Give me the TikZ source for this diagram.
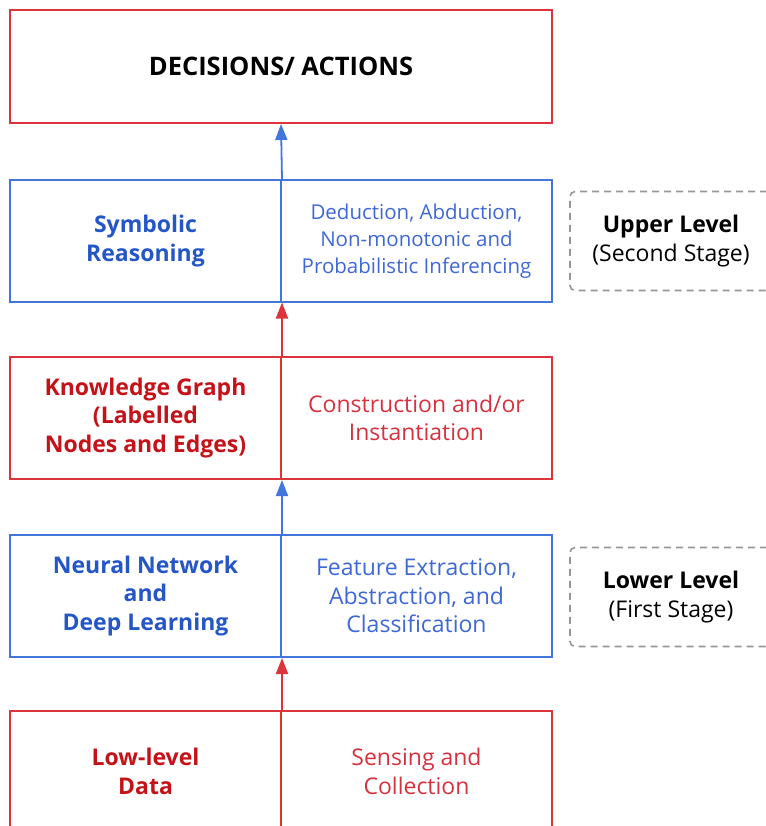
\documentclass[tikz,border=0pt]{standalone}
\usepackage{fontspec}
\setmainfont{Open Sans}
\usepackage{tikz}
\usetikzlibrary{arrows.meta}
\definecolor{boxred}{RGB}{220,52,58}
\definecolor{txtred}{RGB}{196,18,24}
\definecolor{lightred}{RGB}{214,50,62}
\definecolor{boxblue}{RGB}{66,118,220}
\definecolor{txtblue}{RGB}{36,86,200}
\definecolor{lightblue}{RGB}{62,104,214}
\definecolor{dashgray}{RGB}{150,150,150}

\begin{document}
\begin{tikzpicture}[x=1pt,y=-1pt,
	cell/.style={rectangle,draw,line width=2pt,minimum width=271pt,minimum height=121pt,
		inner sep=0pt,align=center,font=\fontsize{23}{28.5}\selectfont},
	redcell/.style={cell,draw=boxred},
	bluecell/.style={cell,draw=boxblue},
	stagebox/.style={rectangle,draw=dashgray,dashed,dash pattern=on 7pt off 5pt,line width=1.6pt,
		rounded corners=5pt,minimum width=202pt,minimum height=99pt,align=center,
		font=\fontsize{23}{28.5}\selectfont},
	uparrow/.style={line width=1.8pt,-{Triangle[length=16pt,width=12pt]}}]
	\useasboundingbox (0,0) rectangle (765,826);
	
	%top box
	\node[redcell,minimum width=542pt,minimum height=113pt] (dec) at (281,66.5)
		{\fontsize{25.5}{30}\selectfont\bfseries DECISIONS/ ACTIONS};
	
	%symbolic reasoning
	\node[bluecell] (sym) at (145.5,241) {\color{txtblue}\bfseries Symbolic\\\color{txtblue}\bfseries Reasoning};
	\node[bluecell,font=\fontsize{20.5}{27}\selectfont] (symr) at (416.5,241) {\color{lightblue}Deduction, Abduction,\\\color{lightblue}Non-monotonic and\\\color{lightblue}Probabilistic Inferencing};
	
	%knowledge graph
	\node[redcell,minimum height=122pt] (kg) at (145.5,418) {\color{txtred}\bfseries Knowledge Graph\\\color{txtred}\bfseries (Labelled\\\color{txtred}\bfseries Nodes and Edges)};
	\node[redcell,minimum height=122pt] (kgr) at (416.5,418) {\color{lightred}Construction and/or\\\color{lightred}Instantiation};
	
	%neural network
	\node[bluecell,minimum height=122pt] (nn) at (145.5,596) {\color{txtblue}\bfseries Neural Network\\\color{txtblue}\bfseries and\\\color{txtblue}\bfseries Deep Learning};
	\node[bluecell,minimum height=122pt] (nnr) at (416.5,596) {\color{lightblue}Feature Extraction,\\\color{lightblue}Abstraction, and\\\color{lightblue}Classification};
	
	%low-level data
	\node[redcell] (data) at (145.5,771.5) {\color{txtred}\bfseries Low-level\\\color{txtred}\bfseries Data};
	\node[redcell] (datar) at (416.5,771.5) {\color{lightred}Sensing and\\\color{lightred}Collection};
	
	%stages
	\node[stagebox] (upper) at (671,241) {\bfseries Upper Level\\(Second Stage)};
	\node[stagebox] (lower) at (671,597) {\bfseries Lower Level\\(First Stage)};
	
	%arrows
	\draw[uparrow,boxblue] (sym.north east) -- (dec.south);
	\draw[uparrow,boxred] (kg.north east) -- (sym.south east);
	\draw[uparrow,boxblue] (nn.north east) -- (kg.south east);
	\draw[uparrow,boxred] (data.north east) -- (nn.south east);
\end{tikzpicture}
\end{document}
